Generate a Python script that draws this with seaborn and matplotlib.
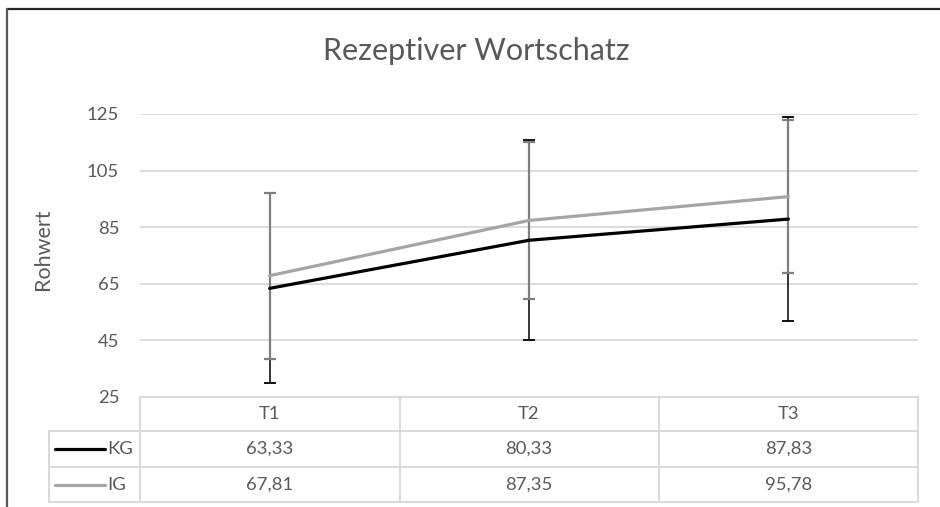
import seaborn as sns
import matplotlib.pyplot as plt
import matplotlib.transforms as mtransforms
from matplotlib.lines import Line2D
import pandas as pd

# data
zeitpunkte = ["T1", "T2", "T3"]
kg_mittel = [63.33, 80.33, 87.83]
ig_mittel = [67.81, 87.35, 95.78]
kg_sd = [33.6, 35.3, 36.1]
ig_sd = [29.3, 27.9, 27.2]
y_ticks = [25, 45, 65, 85, 105, 125]

text_grey = "#595959"
grid_grey = "#D9D9D9"
kg_col = "#000000"
ig_col = "#A5A5A5"
ig_err_col = "#7F7F7F"

sns.set_style("white")
plt.rcParams["font.family"] = ["Lato", "DejaVu Sans"]

W, H = 940, 507
fig = plt.figure(figsize=(W / 100, H / 100), dpi=100)

def fx(px):
    return px / W

def fy(py):
    return 1 - py / H

# plot area: x 140..918 px, y 114..396.7 px
ax = fig.add_axes([fx(140), fy(396.7), fx(918 - 140), (396.7 - 114) / H])

df = pd.DataFrame({
    "Zeitpunkt": zeitpunkte * 2,
    "Rohwert": kg_mittel + ig_mittel,
    "Gruppe": ["KG"] * 3 + ["IG"] * 3,
})

# error bars first, lines on top
ax.errorbar(zeitpunkte, kg_mittel, yerr=kg_sd, fmt="none", ecolor=kg_col,
            elinewidth=1.1, capsize=4, capthick=1.3, zorder=3)
ax.errorbar(zeitpunkte, ig_mittel, yerr=ig_sd, fmt="none", ecolor=ig_err_col,
            elinewidth=1.6, capsize=4, capthick=1.6, zorder=3)

sns.lineplot(data=df, x="Zeitpunkt", y="Rohwert", hue="Gruppe",
             palette={"KG": kg_col, "IG": ig_col}, linewidth=2.3,
             legend=False, ax=ax, zorder=4)

fs = 13.3
ax.set_xlim(-0.5, 2.5)
ax.set_ylim(25, 125)
ax.set_yticks(y_ticks)
ax.set_yticklabels([str(t) for t in y_ticks], fontsize=fs, color=text_grey)
ax.tick_params(axis="y", length=0, pad=15)
ax.set_xticks([])
ax.set_xlabel("")
ax.set_ylabel("Rohwert", fontsize=15.5, color=text_grey, labelpad=0)
ax.yaxis.set_label_coords(fx(53 - 140) / fx(778), 0.52)
for s in ax.spines.values():
    s.set_visible(False)
for t in y_ticks[1:]:
    ax.axhline(t, color=grid_grey, lw=1.3, zorder=1)

fig.text(fx(476), fy(51), "Rezeptiver Wortschatz", fontsize=22,
         color=text_grey, ha="center", va="center")

# data table below the plot
tl = dict(color=grid_grey, lw=1.4, transform=fig.transFigure)
rows_y = [397, 430.7, 467.3, 501.7]
cols_x = [140, 399.5, 659, 918]
fig.add_artist(Line2D([fx(140), fx(918)], [fy(397), fy(397)], **tl))
for y in rows_y[1:]:
    fig.add_artist(Line2D([fx(49), fx(918)], [fy(y), fy(y)], **tl))
for x in cols_x:
    fig.add_artist(Line2D([fx(x), fx(x)], [fy(397), fy(501.7)], **tl))
fig.add_artist(Line2D([fx(49), fx(49)], [fy(430.7), fy(501.7)], **tl))

blend = mtransforms.blended_transform_factory(ax.transData, fig.transFigure)
row_centers = [(rows_y[i] + rows_y[i + 1]) / 2 for i in range(3)]
for i, lab in enumerate(zeitpunkte):
    fig.text(i, fy(row_centers[0]), lab, transform=blend, ha="center",
             va="center", fontsize=fs, color=text_grey)
    fig.text(i, fy(row_centers[1]), f"{kg_mittel[i]:.2f}".replace(".", ","),
             transform=blend, ha="center", va="center", fontsize=fs, color=text_grey)
    fig.text(i, fy(row_centers[2]), f"{ig_mittel[i]:.2f}".replace(".", ","),
             transform=blend, ha="center", va="center", fontsize=fs, color=text_grey)

for name, col, yc in [("KG", kg_col, row_centers[1]), ("IG", ig_col, row_centers[2])]:
    fig.add_artist(Line2D([fx(55), fx(105)], [fy(yc), fy(yc)], color=col, lw=2.3,
                          transform=fig.transFigure))
    fig.text(fx(107), fy(yc), name, ha="left", va="center", fontsize=fs, color=text_grey)

# chart area border (top and left visible)
fig.add_artist(Line2D([fx(7), 1], [fy(8.5), fy(8.5)], color="#262626", lw=1.6,
                      transform=fig.transFigure))
fig.add_artist(Line2D([fx(7), fx(7)], [fy(8.5), 0], color="#595959", lw=1.6,
                      transform=fig.transFigure))

fig.savefig("out.png", dpi=100)
